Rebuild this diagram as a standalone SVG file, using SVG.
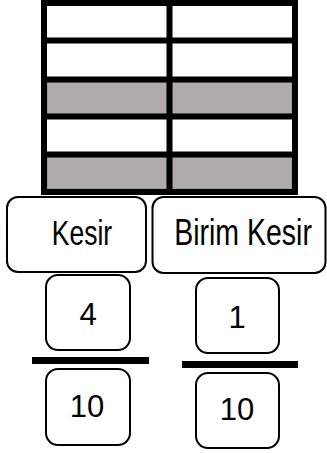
<svg xmlns="http://www.w3.org/2000/svg" width="327" height="453" viewBox="0 0 327 453">
<style>
.box{fill:#fff;stroke:#000;stroke-width:2}
.lbl{font-family:"Liberation Sans",Arial,sans-serif;fill:#000;text-anchor:middle}
.gray{fill:#afabaa;stroke:#8f8b8a;stroke-width:1}
.gl{stroke:#000;stroke-width:6;fill:none}
.bar{fill:#000}
</style>
<rect width="327" height="453" fill="#fff"/>
<g id="grid">
<rect x="44" y="3" width="251" height="189" fill="#fff"/>
<rect class="gray" x="47" y="82" width="120" height="32"/>
<rect class="gray" x="172" y="82" width="120" height="32"/>
<rect class="gray" x="47" y="157" width="120" height="32"/>
<rect class="gray" x="172" y="157" width="120" height="32"/>
<rect class="gl" x="44" y="3" width="251" height="189"/>
<line class="gl" x1="44" y1="40.5" x2="295" y2="40.5"/>
<line class="gl" x1="44" y1="79.5" x2="295" y2="79.5"/>
<line class="gl" x1="44" y1="116.5" x2="295" y2="116.5"/>
<line class="gl" x1="44" y1="154.5" x2="295" y2="154.5"/>
<line class="gl" x1="169.5" y1="3" x2="169.5" y2="192"/>
</g>
<g id="kesir">
<rect class="box" x="7" y="197" width="139" height="75" rx="11"/>
<text class="lbl" transform="translate(82,245) scale(1,1.3)" x="0" y="0" font-size="26.5">Kesir</text>
</g>
<g id="birim-kesir">
<rect class="box" x="152.5" y="197" width="173" height="76" rx="11"/>
<text class="lbl" transform="translate(243,245) scale(1,1.3)" x="0" y="0" font-size="28.5">Birim Kesir</text>
</g>
<g id="num-4">
<rect class="box" x="46" y="275" width="84" height="75" rx="12"/>
<text class="lbl" x="88" y="325" font-size="31">4</text>
</g>
<g id="bar-1"><rect class="bar" x="32" y="357" width="117" height="7"/></g>
<g id="den-10a">
<rect class="box" x="46" y="369" width="84" height="76" rx="12"/>
<text class="lbl" x="87" y="417" font-size="31">10</text>
</g>
<g id="num-1">
<rect class="box" x="196" y="278" width="83" height="75" rx="12"/>
<text class="lbl" x="237" y="328" font-size="31">1</text>
</g>
<g id="bar-2"><rect class="bar" x="182" y="361" width="116" height="7"/></g>
<g id="den-10b">
<rect class="box" x="196" y="373" width="83" height="75" rx="12"/>
<text class="lbl" x="237" y="420" font-size="31">10</text>
</g>
<g id="connectors"/>
</svg>
